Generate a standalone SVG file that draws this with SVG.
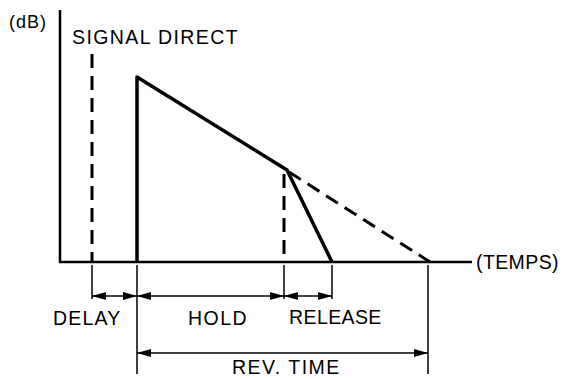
<svg xmlns="http://www.w3.org/2000/svg" width="564" height="379" viewBox="0 0 564 379">
<style>
.t{font-family:"Liberation Sans",Arial,sans-serif;font-size:19.5px;fill:#000;letter-spacing:1.2px}
.ax{stroke:#000;stroke-width:2.5;fill:none}
.cv{stroke:#000;stroke-width:3.5;fill:none;stroke-linejoin:round}
.ds{stroke:#000;stroke-width:3;fill:none;stroke-dasharray:14 8}
.dm{stroke:#000;stroke-width:1.5;fill:none}
</style>
<defs>
<marker id="ah" viewBox="0 0 14 8" refX="14" refY="4" markerWidth="14" markerHeight="8" markerUnits="userSpaceOnUse" orient="auto-start-reverse">
<path d="M0,0 L14,4 L0,8 Z" fill="#000"/>
</marker>
</defs>
<rect width="564" height="379" fill="#fff"/>
<g id="axes">
<line class="ax" x1="60" y1="10" x2="60" y2="263"/>
<line class="ax" x1="59" y1="262" x2="472" y2="262"/>
</g>
<g id="labels">
<text class="t" x="9" y="28" style="font-size:18px;letter-spacing:1px">(dB)</text>
<text class="t" x="72" y="44" style="letter-spacing:1.4px">SIGNAL DIRECT</text>
<text class="t" x="476" y="269" style="letter-spacing:0.4px">(TEMPS)</text>
<text class="t" x="53" y="325">DELAY</text>
<text class="t" x="188" y="325" style="letter-spacing:1.5px">HOLD</text>
<text class="t" x="289" y="324" style="letter-spacing:0.4px">RELEASE</text>
<text class="t" x="232" y="374" style="letter-spacing:1.5px">REV. TIME</text>
</g>
<g id="curves">
<line class="ds" x1="92" y1="54" x2="92" y2="262"/>
<polyline class="cv" points="137,262 137,77 287,170 332,262"/>
<line class="ds" x1="284" y1="174" x2="284" y2="262"/>
<line class="ds" x1="289" y1="172" x2="430" y2="262"/>
</g>
<g id="connectors">
<line class="dm" x1="92" y1="265" x2="92" y2="299"/>
<line class="dm" x1="137" y1="265" x2="137" y2="374"/>
<line class="dm" x1="284" y1="265" x2="284" y2="299"/>
<line class="dm" x1="332" y1="265" x2="332" y2="299"/>
<line class="dm" x1="428" y1="265" x2="428" y2="374"/>
<line class="dm" x1="92" y1="296" x2="137" y2="296" marker-start="url(#ah)" marker-end="url(#ah)"/>
<line class="dm" x1="137" y1="296" x2="284" y2="296" marker-start="url(#ah)" marker-end="url(#ah)"/>
<line class="dm" x1="284" y1="296" x2="332" y2="296" marker-start="url(#ah)" marker-end="url(#ah)"/>
<line class="dm" x1="137" y1="353" x2="428" y2="353" marker-start="url(#ah)" marker-end="url(#ah)"/>
</g>
</svg>
